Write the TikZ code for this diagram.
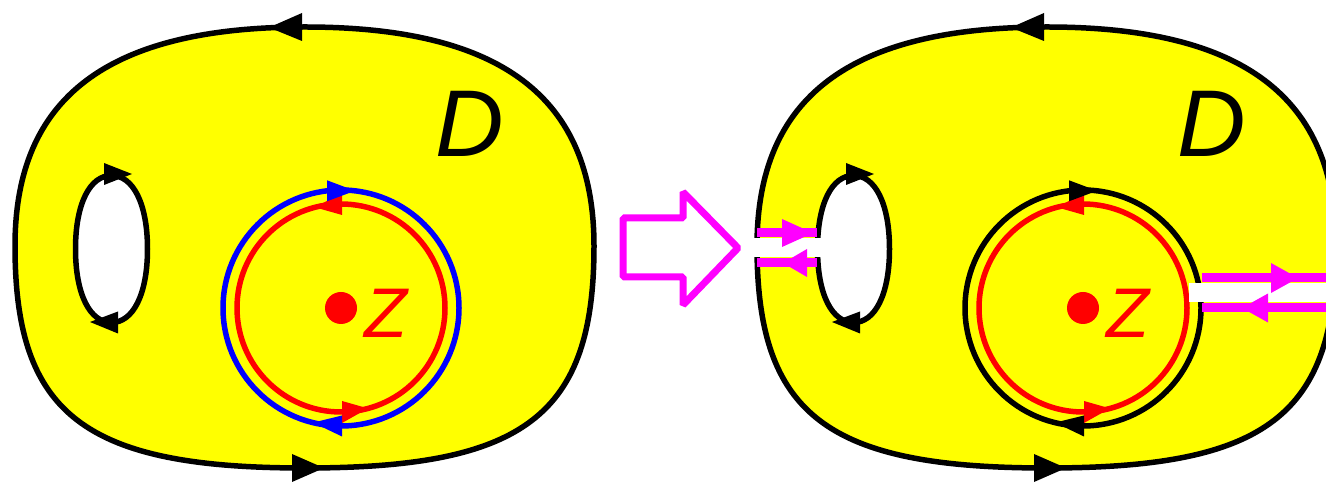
\documentclass[tikz,border=0pt]{standalone}
\usepackage{fontspec}
\setmainfont{Liberation Sans}
\definecolor{dyellow}{RGB}{255,255,0}
\definecolor{dred}{RGB}{255,0,0}
\definecolor{dblue}{RGB}{0,0,255}
\definecolor{dmagenta}{RGB}{255,0,255}
% filled arrow head: tip x, tip y, base x, base y, half width
\newcommand{\arrhead}[6][black]{\fill[#1] (#2,#3) -- (#4,{#5+#6}) -- (#4,{#5-#6}) -- cycle;}

\begin{document}
\begin{tikzpicture}[x=0.02cm, y=0.02cm,
  bd/.style={line width=0.11cm},
  cutline/.style={dmagenta, line width=0.18cm}]
\useasboundingbox (0,0) rectangle (1326,-482);
\clip (0,0) rectangle (1326,-482);

% the domain D, twice
\foreach \dx in {0,742} {
\begin{scope}[shift={(\dx,0)}]
\filldraw[bd, fill=dyellow]
  (594,-246) .. controls (594,-97) and (501,-27) .. (305,-27)
  .. controls (108,-27) and (15,-97) .. (15,-246)
  .. controls (15,-415) and (85,-468) .. (305,-468)
  .. controls (525,-468) and (594,-415) .. (594,-246) -- cycle;
\arrhead{269}{-27.5}{302}{-27}{14}
\arrhead{324}{-468}{292}{-468}{14}
\filldraw[bd, fill=white]
  (147.5,-249) .. controls (147.5,-294.6) and (133,-322.5) .. (111.5,-322.5)
  .. controls (90,-322.5) and (75.5,-294.6) .. (75.5,-249)
  .. controls (75.5,-203.4) and (90,-175.5) .. (111.5,-175.5)
  .. controls (133,-175.5) and (147.5,-203.4) .. (147.5,-249) -- cycle;
\arrhead{132}{-174}{104}{-174}{11}
\arrhead{90}{-322}{118}{-322.5}{11}
\draw[bd, dred] (341,-308) circle (104);
\arrhead[dred]{315}{-207.3}{342}{-204}{11}
\arrhead[dred]{368}{-408.4}{342}{-412}{11}
\fill[dred] (341,-308) circle (16);
\node[dred, inner sep=0, font=\fontsize{40}{40}\selectfont\itshape] (zlabel\dx) at (385.5,-313) {Z};
\node[inner sep=0, font=\fontsize{54}{54}\selectfont\itshape] (dlabel\dx) at (470,-124) {D};
\end{scope}
}

\draw[bd, dblue] (341,-308) circle (118);
\arrhead[dblue]{355}{-190.8}{327}{-190.8}{10.5}
\arrhead[dblue]{313}{-422.6}{342}{-426}{10.5}
\draw[bd] (1083,-308) circle (118);
\arrhead{1097}{-190.8}{1069}{-190.8}{10.5}
\arrhead{1055}{-422.6}{1084}{-426}{10.5}

% hollow arrow
\draw[dmagenta, line width=0.14cm, line join=bevel] (623,-218) -- (683,-218) -- (683,-192)
  -- (738,-248) -- (683,-305) -- (683,-277) -- (623,-277) -- cycle;

% cuts
\coordinate (outA) at (757,-233);
\coordinate (holeA) at (817,-233);
\coordinate (holeB) at (817,-263);
\coordinate (outB) at (757,-263);
\fill[white] (752,-238) rectangle (823,-257);
\draw[cutline] (outA) -- (holeA);
\draw[cutline] (holeB) -- (outB);
\arrhead[dmagenta]{813}{-233}{782}{-233}{14}
\arrhead[dmagenta]{783}{-263}{807}{-263}{14}

\coordinate (circA) at (1202,-278);
\coordinate (edgeA) at (1340,-278);
\coordinate (edgeB) at (1340,-308);
\coordinate (circB) at (1202,-308);
\fill[white] (1189,-283) rectangle (1340,-302);
\draw[cutline] (circA) -- (edgeA);
\draw[cutline] (edgeB) -- (circB);
\arrhead[dmagenta]{1298}{-278}{1271}{-278}{15}
\arrhead[dmagenta]{1242}{-308}{1268}{-308}{14.5}
\end{tikzpicture}
\end{document}
